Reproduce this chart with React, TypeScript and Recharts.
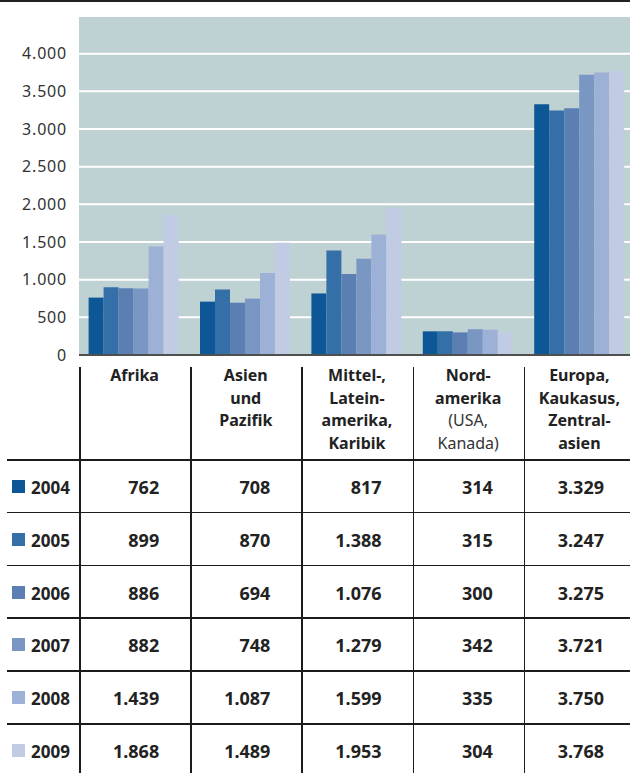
import { BarChart, Bar, XAxis, YAxis, CartesianGrid, ReferenceLine } from 'recharts';

const regions = ['Afrika', 'Asien und Pazifik', 'Mittel-, Lateinamerika, Karibik', 'Nordamerika (USA, Kanada)', 'Europa, Kaukasus, Zentralasien'];
const headerLines = [
  ['Afrika'],
  ['Asien', 'und', 'Pazifik'],
  ['Mittel-,', 'Latein-', 'amerika,', 'Karibik'],
  ['Nord-', 'amerika', '(USA,', 'Kanada)'],
  ['Europa,', 'Kaukasus,', 'Zentral-', 'asien'],
];
const lightLines = ['(USA,', 'Kanada)'];

const years = ['2004', '2005', '2006', '2007', '2008', '2009'];
const v2004 = [762, 708, 817, 314, 3329];
const v2005 = [899, 870, 1388, 315, 3247];
const v2006 = [886, 694, 1076, 300, 3275];
const v2007 = [882, 748, 1279, 342, 3721];
const v2008 = [1439, 1087, 1599, 335, 3750];
const v2009 = [1868, 1489, 1953, 304, 3768];
const yearValues = [v2004, v2005, v2006, v2007, v2008, v2009];

const yTicks = [0, 500, 1000, 1500, 2000, 2500, 3000, 3500, 4000];
const colors = ['#0d5796', '#356fa8', '#5b7fb3', '#7a96c3', '#9db0d5', '#c1cce4'];

const data = regions.map((r, i) => {
  const row: Record<string, string | number> = { region: r };
  years.forEach((y, j) => {
    row[y] = yearValues[j][i];
  });
  return row;
});

const fmt = (n: number) => String(n).replace(/\B(?=(\d{3})+(?!\d))/g, '.');

const FONT = '"Noto Sans", "Open Sans", sans-serif';
const PLOT_LEFT = 79;
const BAND = 111.2;
const ROW_TOP = 459;
const ROW_H = 52.8;
const LINE = '#1c1c1c';

export default function App() {
  return (
    <div
      style={{
        position: 'absolute',
        left: 0,
        top: 0,
        width: 630,
        height: 773,
        overflow: 'hidden',
        background: '#fff',
        fontFamily: FONT,
        color: '#222',
      }}
    >
      {/* top rule */}
      <div style={{ position: 'absolute', left: 0, top: 0, width: 630, height: 2, background: '#222' }} />

      <div style={{ position: 'absolute', left: 0, top: 0 }}>
        <BarChart
          width={636}
          height={372}
          data={data}
          margin={{ top: 16, right: 0, bottom: 17, left: 0 }}
          barCategoryGap={9.6}
          barGap={0}
        >
          <CartesianGrid vertical={false} fill="#bed1d3" stroke="#ffffff" strokeWidth={2} />
          <XAxis dataKey="region" hide />
          <YAxis
            width={PLOT_LEFT}
            domain={[0, 4500]}
            ticks={yTicks}
            interval={0}
            axisLine={false}
            tickLine={false}
            tickSize={0}
            tickMargin={12}
            tickFormatter={fmt}
            tick={{ fill: '#333', fontSize: 16, fontFamily: FONT, letterSpacing: 0.8 }}
          />
          {years.map((y, j) => (
            <Bar key={y} dataKey={y} fill={colors[j]} isAnimationActive={false} />
          ))}
          <ReferenceLine y={0} stroke="#4f4f4f" strokeWidth={2} />
        </BarChart>
      </div>

      {/* table grid lines */}
      {regions.map((_, i) => (
        <div
          key={'v' + i}
          style={{
            position: 'absolute',
            left: PLOT_LEFT + i * BAND,
            top: 367,
            width: 1.5,
            height: 420,
            background: LINE,
          }}
        />
      ))}
      {years.map((_, j) => (
        <div
          key={'h' + j}
          style={{
            position: 'absolute',
            left: 7,
            top: ROW_TOP + j * ROW_H,
            width: 630,
            height: 1.5,
            background: LINE,
          }}
        />
      ))}

      {/* column headers */}
      {headerLines.map((lines, i) => (
        <div
          key={'hd' + i}
          style={{
            position: 'absolute',
            left: PLOT_LEFT + i * BAND,
            top: 364,
            width: BAND,
            textAlign: 'center',
            fontSize: 16,
            lineHeight: '22.5px',
          }}
        >
          {lines.map((l) => (
            <div key={l} style={{ fontWeight: lightLines.includes(l) ? 400 : 700, color: lightLines.includes(l) ? '#333' : '#222' }}>
              {l}
            </div>
          ))}
        </div>
      ))}

      {/* rows */}
      {years.map((y, j) => (
        <div key={'r' + y}>
          <div
            style={{
              position: 'absolute',
              left: 12,
              top: ROW_TOP + j * ROW_H + 21,
              width: 13,
              height: 13,
              background: colors[j],
            }}
          />
          <div
            style={{
              position: 'absolute',
              left: 31,
              top: ROW_TOP + j * ROW_H + 17,
              fontSize: 17,
              fontWeight: 700,
              lineHeight: '24px',
            }}
          >
            {y}
          </div>
          {yearValues[j].map((v, i) => (
            <div
              key={i}
              style={{
                position: 'absolute',
                left: PLOT_LEFT + i * BAND,
                width: BAND - 31,
                top: ROW_TOP + j * ROW_H + 15,
                textAlign: 'right',
                fontSize: 18,
                fontWeight: 700,
                lineHeight: '26px',
              }}
            >
              {fmt(v)}
            </div>
          ))}
        </div>
      ))}
    </div>
  );
}
